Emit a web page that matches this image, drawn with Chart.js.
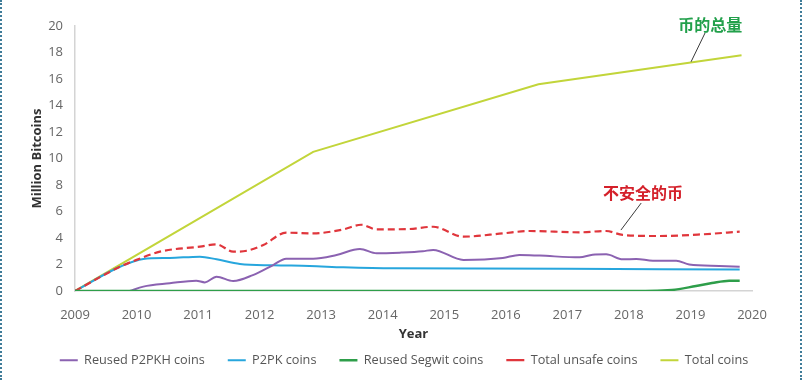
<!DOCTYPE html>
<html>
<head>
<meta charset="utf-8">
<script src="https://cdn.jsdelivr.net/npm/chart.js@4"></script>
<style>
  html, body { margin: 0; padding: 0; background: #fff; }
  #wrap { position: relative; width: 808px; height: 380px; }
  #c { display: block; }
  .edge { position: absolute; top: 0; bottom: 0; width: 0; border-left: 2px dotted #3f7c99; }
</style>
</head>
<body>
<div id="wrap">
  <canvas id="c" width="808" height="380"></canvas>
  <div class="edge" style="left:0px"></div>
  <div class="edge" style="left:800px"></div>
</div>
<script>
// ---- Data ----
const xTicks = [2009, 2010, 2011, 2012, 2013, 2014, 2015, 2016, 2017, 2018, 2019, 2020];
const yTicks = [0, 2, 4, 6, 8, 10, 12, 14, 16, 18, 20];

const seriesNames = ['Reused P2PKH coins', 'P2PK coins', 'Reused Segwit coins', 'Total unsafe coins', 'Total coins'];

const p2pkhYears  = [2009.89, 2010.11, 2010.54, 2010.97, 2011.11, 2011.3, 2011.57, 2011.89, 2012.22, 2012.43, 2012.87, 2013.25, 2013.63, 2013.9, 2014.3, 2014.65, 2014.82, 2015.31, 2015.95, 2016.22, 2016.55, 2017.2, 2017.41, 2017.63, 2017.9, 2018.12, 2018.39, 2018.77, 2018.98, 2019.47, 2019.8];
const p2pkhValues = [0, 0.33, 0.58, 0.78, 0.65, 1.08, 0.75, 1.2, 1.96, 2.44, 2.44, 2.72, 3.17, 2.84, 2.9, 3.0, 3.1, 2.34, 2.49, 2.72, 2.67, 2.54, 2.74, 2.77, 2.39, 2.42, 2.29, 2.29, 2.0, 1.89, 1.83];

const p2pkYears  = [2009, 2009.73, 2010.11, 2010.54, 2011.03, 2011.3, 2011.68, 2012.22, 2012.81, 2013.36, 2014.17, 2015.5, 2017, 2018.5, 2019.8];
const p2pkValues = [0, 1.83, 2.42, 2.49, 2.59, 2.39, 2.04, 1.94, 1.89, 1.79, 1.71, 1.7, 1.68, 1.65, 1.63];

const segwitYears  = [2009, 2017.9, 2018.7, 2019.09, 2019.35, 2019.63, 2019.8];
const segwitValues = [0, 0, 0.08, 0.38, 0.6, 0.78, 0.78];

const unsafeYears  = [2009, 2009.73, 2010.0, 2010.38, 2011.03, 2011.3, 2011.57, 2011.79, 2012.06, 2012.43, 2012.87, 2013.36, 2013.65, 2013.9, 2014.44, 2014.82, 2015.31, 2015.95, 2016.39, 2017.2, 2017.63, 2017.9, 2018.5, 2019.2, 2019.8];
const unsafeValues = [0, 1.83, 2.35, 2.97, 3.35, 3.52, 2.97, 3.04, 3.47, 4.4, 4.35, 4.65, 5.0, 4.65, 4.68, 4.85, 4.1, 4.35, 4.53, 4.43, 4.53, 4.23, 4.15, 4.28, 4.48];

const totalYears  = [2009, 2012.87, 2016.53, 2019.83];
const totalValues = [0, 10.5, 15.6, 17.8];

// ---- Annotations (text + leader line, anchored in data units) ----
const annotations = [
  { text: '币的总量', color: '#22a04b', at: [2019.32, 20.08], from: [2019.24, 19.5], to: [2019.01, 17.3] },
  { text: '不安全的币', color: '#d4202a', at: [2018.23, 7.4], from: [2018.2, 6.64], to: [2017.87, 4.6] }
];

function pts(xs, ys) { return xs.map((x, i) => ({ x: x, y: ys[i] })); }

const annotationPlugin = {
  id: 'leaderNotes',
  afterDatasetsDraw(chart) {
    const { ctx, scales: { x, y } } = chart;
    ctx.save();
    annotations.forEach(a => {
      ctx.beginPath();
      ctx.strokeStyle = '#3a3a3a';
      ctx.lineWidth = 1;
      ctx.moveTo(x.getPixelForValue(a.from[0]), y.getPixelForValue(a.from[1]));
      ctx.lineTo(x.getPixelForValue(a.to[0]), y.getPixelForValue(a.to[1]));
      ctx.stroke();
      ctx.font = 'bold 16px "Noto Sans CJK SC"';
      ctx.fillStyle = a.color;
      ctx.textAlign = 'center';
      ctx.textBaseline = 'middle';
      ctx.fillText(a.text, x.getPixelForValue(a.at[0]), y.getPixelForValue(a.at[1]));
    });
    ctx.restore();
  }
};

Chart.defaults.font.family = '"Open Sans", sans-serif';

const baseLine = { pointRadius: 0, pointHoverRadius: 0, fill: false, borderWidth: 2 };

new Chart(document.getElementById('c'), {
  type: 'line',
  data: {
    datasets: [
      Object.assign({}, baseLine, { label: seriesNames[0], data: pts(p2pkhYears, p2pkhValues), borderColor: '#8b62b1', cubicInterpolationMode: 'monotone', tension: 0.4, order: 3 }),
      Object.assign({}, baseLine, { label: seriesNames[1], data: pts(p2pkYears, p2pkValues), borderColor: '#27a6dd', cubicInterpolationMode: 'monotone', tension: 0.4, order: 4 }),
      Object.assign({}, baseLine, { label: seriesNames[2], data: pts(segwitYears, segwitValues), borderColor: '#2e9e4a', cubicInterpolationMode: 'monotone', tension: 0.4, borderWidth: 2.5, order: 1 }),
      Object.assign({}, baseLine, { label: seriesNames[3], data: pts(unsafeYears, unsafeValues), borderColor: '#e0363c', borderDash: [7, 4], cubicInterpolationMode: 'monotone', tension: 0.4, borderWidth: 2.2, order: 2 }),
      Object.assign({}, baseLine, { label: seriesNames[4], data: pts(totalYears, totalValues), borderColor: '#c2d53a', tension: 0, order: 5 })
    ]
  },
  options: {
    responsive: false,
    animation: false,
    events: [],
    layout: { padding: { left: 0, right: 0, top: 26, bottom: 3.5 } },
    scales: {
      x: {
        type: 'linear',
        min: xTicks[0],
        max: xTicks[xTicks.length - 1],
        afterBuildTicks(scale) { scale.ticks = xTicks.map(v => ({ value: v })); },
        afterFit(scale) { scale.height = 39.8; },
        ticks: { color: '#666', font: { size: 13 }, padding: 16, maxRotation: 0, autoSkip: false, callback: v => String(v) },
        grid: { display: false, drawTicks: false },
        border: { display: true, color: '#d4d4d4', width: 1.5 },
        title: { display: true, text: 'Year', color: '#333', font: { size: 13, weight: 'bold' }, padding: { top: 0, bottom: -11 } }
      },
      y: {
        min: yTicks[0],
        max: yTicks[yTicks.length - 1],
        afterBuildTicks(scale) { scale.ticks = yTicks.map(v => ({ value: v })); },
        afterFit(scale) { scale.width = 75; },
        ticks: { color: '#666', font: { size: 13 }, padding: 12, autoSkip: false },
        grid: { display: false, drawTicks: false },
        border: { display: true, color: '#d4d4d4', width: 1.5 },
        title: { display: true, text: 'Million Bitcoins', color: '#333', font: { size: 13, weight: 'bold' }, padding: { top: 29, bottom: 0 } }
      },
      yRightSpace: {
        position: 'right',
        display: true,
        afterFit(scale) { scale.width = 56; },
        ticks: { display: false },
        grid: { display: false, drawTicks: false },
        border: { display: false }
      }
    },
    plugins: {
      tooltip: { enabled: false },
      legend: {
        position: 'bottom',
        labels: {
          usePointStyle: true,
          pointStyle: 'line',
          pointStyleWidth: 18,
          padding: 23,
          color: '#555',
          font: { size: 12.7 },
          sort: (a, b) => a.datasetIndex - b.datasetIndex
        }
      }
    }
  },
  plugins: [annotationPlugin]
});
</script>
</body>
</html>
